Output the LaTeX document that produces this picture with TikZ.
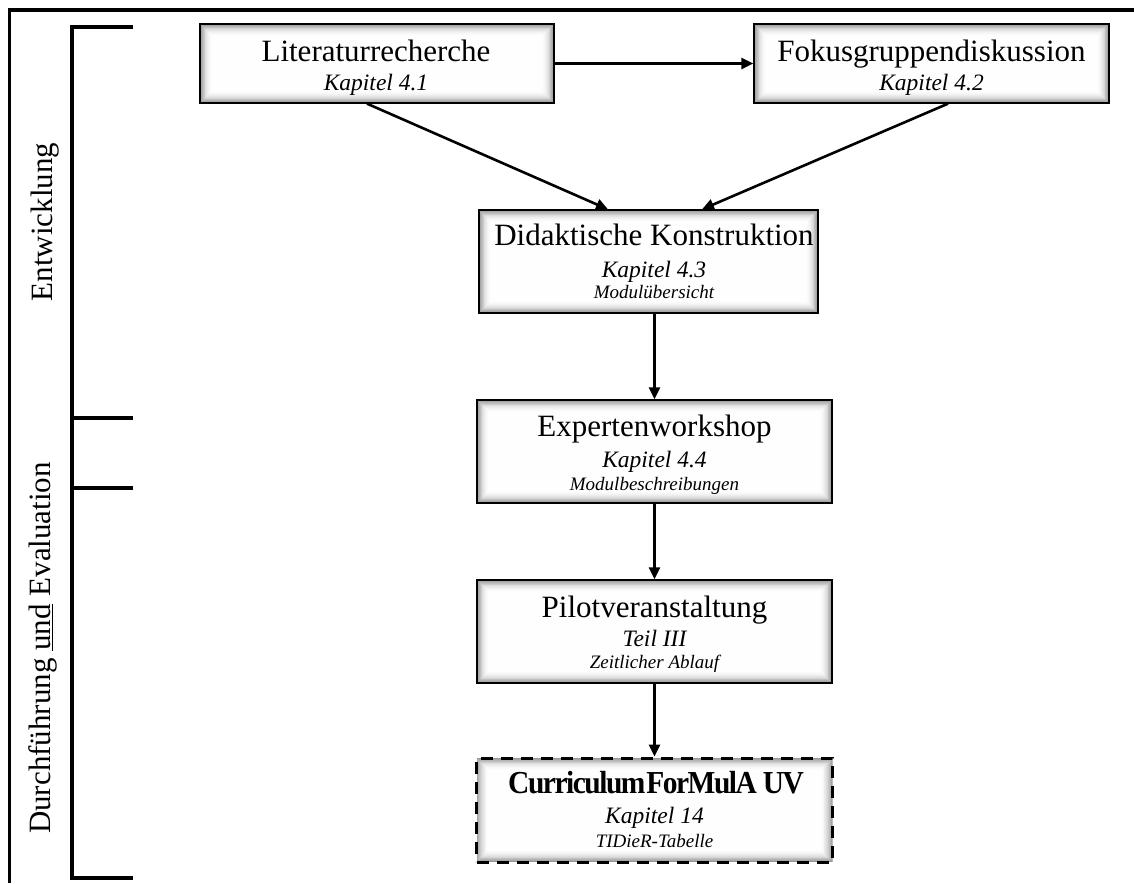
\documentclass[tikz,border=0pt]{standalone}
\usepackage{fontspec}
\usepackage{graphicx}
\setmainfont{Liberation Serif}
\usetikzlibrary{arrows.meta,calc}

% font sizes used inside the boxes
\newcommand\boxtitle{\fontsize{31}{36}\selectfont}
\newcommand\boxchap{\fontsize{23.5}{28}\selectfont\itshape}
\newcommand\boxnote{\fontsize{19}{23}\selectfont\itshape}
\newcommand\phaselabel{\fontsize{31}{36}\selectfont}

\tikzset{
  % soft grey rim fading into a white interior
  glow/.style={path picture={
    \foreach \i in {0,...,13}{
      \pgfmathsetmacro\g{40*(1-\i/14)^2}
      \fill[black!\g]
        ([shift={(\i*0.9pt,-\i*0.9pt)}]path picture bounding box.north west)
        rectangle
        ([shift={(-\i*0.9pt,\i*0.9pt)}]path picture bounding box.south east);
    }}},
  stepbox/.style={draw=black, line width=1.3pt, fill=white, glow, inner sep=0pt},
  resultbox/.style={draw=black, line width=3pt, dash pattern=on 12pt off 8pt,
    fill=white, glow, inner sep=0pt},
  conn/.style={line width=2.6pt, -{Triangle[length=12pt,width=11pt]}},
  rule/.style={line width=3.5pt},
  txt/.style={anchor=base, inner sep=0pt},
}

\begin{document}
\begin{tikzpicture}[x=1pt,y=-1pt]
\useasboundingbox (0,0) rectangle (1134,883);

% outer frame (left and top)
\draw[rule] (9.5,883) -- (9.5,10) -- (1134,10);

% phase bracket
\draw[rule] (133,27) -- (72,27) -- (72,878) -- (133,878);
\draw[rule] (72,418) -- (133,418);
\draw[rule] (72,488) -- (133,488);

\node[txt, rotate=90] (ph1) at (52,222) {\phaselabel Entwicklung};
\node[txt, rotate=90] (ph2) at (50,648) {\phaselabel Durchführung \underline{und} Evaluation};

% boxes
\node[stepbox, minimum width=354pt, minimum height=79pt] (lit) at (377,63.5) {};
\node[stepbox, minimum width=355pt, minimum height=79pt] (fok) at (931.5,63.5) {};
\node[stepbox, minimum width=339pt, minimum height=103pt] (did) at (648.5,261.5) {};
\node[stepbox, minimum width=355pt, minimum height=103pt] (exp) at (654.5,451.5) {};
\node[stepbox, minimum width=355pt, minimum height=103pt] (pil) at (654.5,631.5) {};
\node[resultbox, minimum width=356pt, minimum height=104pt] (cur) at (654.5,810) {};

% box texts
\node[txt] (lit-t) at (376,61) {\boxtitle Literaturrecherche};
\node[txt] (lit-k) at (376,90) {\boxchap Kapitel 4.1};

\node[txt] (fok-t) at (931.5,61) {\boxtitle Fokusgruppendiskussion};
\node[txt] (fok-k) at (931.5,90) {\boxchap Kapitel 4.2};

\node[txt] (did-t) at (654,245) {\boxtitle Didaktische Konstruktion};
\node[txt] (did-k) at (654,277) {\boxchap Kapitel 4.3};
\node[txt] (did-n) at (654,298) {\boxnote Modulübersicht};

\node[txt] (exp-t) at (654.5,436) {\boxtitle Expertenworkshop};
\node[txt] (exp-k) at (654.5,467) {\boxchap Kapitel 4.4};
\node[txt] (exp-n) at (654.5,490) {\boxnote Modulbeschreibungen};

\node[txt] (pil-t) at (654.5,617) {\boxtitle Pilotveranstaltung};
\node[txt] (pil-k) at (654.5,646) {\boxchap Teil III};
\node[txt] (pil-n) at (654.5,668) {\boxnote Zeitlicher Ablauf};

\node[txt] (cur-t) at (656,793) {\scalebox{0.92}[1]{\fontsize{32}{36}\selectfont\bfseries
  \addfontfeature{LetterSpace=-5}Curriculum\hspace{1pt}ForMulA UV}};
\node[txt] (cur-k) at (654.5,823) {\boxchap Kapitel 14};
\node[txt] (cur-n) at (654.5,847) {\boxnote TIDieR-Tabelle};

% connectors
\draw[conn] (lit.east) -- (fok.west);
\draw[conn] ($(lit.south)+(-10,0)$) -- ($(did.north)+(-40.5,0)$);
\draw[conn] ($(fok.south)+(16.5,0)$) -- ($(did.north)+(53.5,0)$);
\draw[conn] (did.south -| exp.north) -- (exp.north);
\draw[conn] (exp.south) -- (pil.north);
\draw[conn] (pil.south) -- (cur.north);
\end{tikzpicture}
\end{document}
